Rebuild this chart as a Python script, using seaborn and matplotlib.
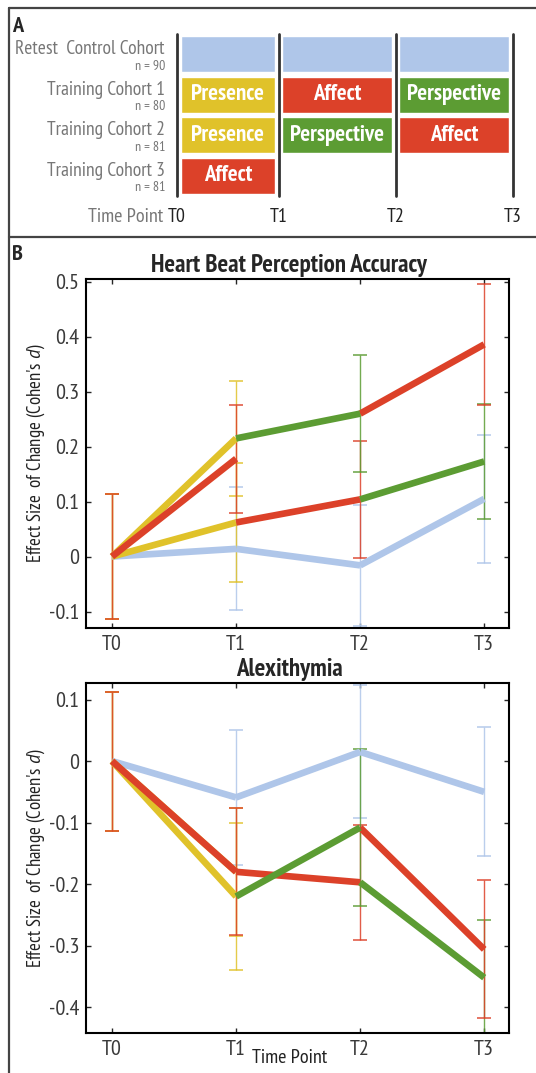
import numpy as np
import pandas as pd
import matplotlib
matplotlib.use("Agg")
import matplotlib.pyplot as plt
import matplotlib.transforms as mtransforms
from matplotlib.lines import Line2D
from matplotlib import font_manager
import seaborn as sns

W, H = 536, 1073

# ── data ──────────────────────────────────────────────────────
time_labels = ["T0", "T1", "T2", "T3"]
design_pos = [0, 1, 2.15, 3.3]          # time points in the study design panel

cohort_names = ["Retest  Control Cohort", "Training Cohort 1",
                "Training Cohort 2", "Training Cohort 3"]
cohort_n = [90, 80, 81, 81]
control_modules = ["Retest", "Retest", "Retest"]
cohort1_modules = ["Presence", "Affect", "Perspective"]
cohort2_modules = ["Presence", "Perspective", "Affect"]
cohort3_modules = ["Affect"]

# heart beat perception accuracy: effect size (Cohen's d) and error half-widths
hb_control = [0, 0.014, -0.016, 0.105]
hb_control_err = [0.113, 0.112, 0.110, 0.116]
hb_c1 = [0, 0.062, 0.104, 0.173]
hb_c1_err = [0.113, 0.108, 0.107, 0.104]
hb_c2 = [0, 0.215, 0.260, 0.386]
hb_c2_err = [0.113, 0.105, 0.107, 0.110]
hb_c3 = [0, 0.178]
hb_c3_err = [0.113, 0.098]

# alexithymia
al_control = [0, -0.059, 0.015, -0.050]
al_control_err = [0.113, 0.110, 0.108, 0.105]
al_c1 = [0, -0.180, -0.197, -0.352]
al_c1_err = [0.113, 0.104, 0.093, 0.093]
al_c2 = [0, -0.220, -0.108, -0.306]
al_c2_err = [0.113, 0.120, 0.128, 0.112]
al_c3 = [0, -0.180]
al_c3_err = [0.113, 0.103]

module_colors = {"Retest": "#afc6e9", "Presence": "#e0c22a",
                 "Affect": "#dc4129", "Perspective": "#5c9c33"}
module_order = ["Retest", "Presence", "Affect", "Perspective"]

# ── style ─────────────────────────────────────────────────────
sns.set_style("ticks")
names = {f.name for f in font_manager.fontManager.ttflist}
FONT = next((f for f in ["PT Sans Narrow", "Asap Condensed", "Cabin Condensed",
                         "Archivo Narrow"] if f in names), "DejaVu Sans")
IT_FONT = next((f for f in ["PT Sans", "Asap Condensed", "Cabin Condensed"]
                if f in names), "DejaVu Sans")
plt.rcParams["font.family"] = [FONT, "DejaVu Sans"]
if FONT == "DejaVu Sans":
    plt.rcParams["font.stretch"] = "condensed"
plt.rcParams["mathtext.fontset"] = "custom"
plt.rcParams["mathtext.rm"] = FONT
plt.rcParams["mathtext.it"] = IT_FONT + ":italic"


def rect(x0, y0, x1, y1):
    return [x0 / W, 1 - y1 / H, (x1 - x0) / W, (y1 - y0) / H]


fig = plt.figure(figsize=(W / 100, H / 100), dpi=100)

# panel frames
frame = dict(color="#444444", lw=1.6, transform=fig.transFigure)
fig.add_artist(Line2D([9 / W, 1], [1 - 8 / H] * 2, **frame))
fig.add_artist(Line2D([9 / W, 1], [1 - 237 / H] * 2, **frame))
fig.add_artist(Line2D([9 / W] * 2, [0, 1 - 8 / H], **frame))
fig.text(12 / W, 1 - 26 / H, "A", fontsize=16, fontweight="bold", va="center")
fig.text(12 / W, 1 - 255 / H, "B", fontsize=16, fontweight="bold", va="center")

# ── A: study design ───────────────────────────────────────────
ax_a = fig.add_axes(rect(177, 34, 513, 196))
ax_a.set_xlim(design_pos[0], design_pos[-1])
ax_a.set_ylim(3.5, -0.5)
ax_a.axis("off")
gap = 0.035
schedule = [control_modules, cohort1_modules, cohort2_modules, cohort3_modules]
for r, mods in enumerate(schedule):
    for i, m in enumerate(mods):
        left = design_pos[i] + gap
        width = design_pos[i + 1] - design_pos[i] - 2 * gap
        ax_a.barh(r, width, left=left, height=0.9, color=module_colors[m])
        if m != "Retest":
            ax_a.text(left + width / 2, r, m, color="white", fontsize=16.5,
                      fontweight="bold", ha="center", va="center")
for x in design_pos:
    ax_a.axvline(x, color="#333333", lw=2, clip_on=False)

row_trans = mtransforms.blended_transform_factory(ax_a.transAxes, ax_a.transData)
for r, (name, n) in enumerate(zip(cohort_names, cohort_n)):
    ax_a.text(-0.036, r - 0.12, name, transform=row_trans, ha="right",
              va="center", fontsize=14, color="#777777")
    ax_a.text(-0.036, r + 0.3, f"n = {n}", transform=row_trans, ha="right",
              va="center", fontsize=10, color="#777777")

tp_trans = mtransforms.blended_transform_factory(ax_a.transData, ax_a.transAxes)
for x, lab in zip(design_pos, time_labels):
    ax_a.text(x, -0.13, lab, transform=tp_trans, ha="center", va="center",
              fontsize=14.5, color="#222222")
ax_a.text(-0.04, -0.13, "Time Point", transform=ax_a.transAxes, ha="right",
          va="center", fontsize=14.5, color="#777777")


# ── B: effect sizes ───────────────────────────────────────────
def effect_panel(ax, series, title, ylim, yticks):
    for vals, errs, mods in series:
        for j in range(len(vals)):
            c = module_colors[mods[max(j - 1, 0)]]
            ax.errorbar(j, vals[j], yerr=errs[j], color=c, lw=1, capsize=5,
                        capthick=1.2, alpha=0.85, zorder=2)
    rows = []
    for k, (vals, errs, mods) in enumerate(series):
        for i, m in enumerate(mods):
            for j in (i, i + 1):
                rows.append(dict(seg=f"{k}-{i}", t=j, d=vals[j], module=m))
    seg_df = pd.DataFrame(rows)
    sns.lineplot(data=seg_df, x="t", y="d", hue="module", hue_order=module_order,
                 palette=module_colors, units="seg", estimator=None, lw=4.8,
                 legend=False, ax=ax, zorder=3, solid_capstyle="butt")
    ax.set_xlim(-0.21, 3.2)
    ax.set_ylim(*ylim)
    ax.set_xticks(range(len(time_labels)), time_labels)
    ax.set_yticks(yticks, [f"{v + 0.0:g}" for v in np.round(yticks, 2)])
    ax.tick_params(direction="in", top=True, right=True, length=3.5, width=1,
                   labelsize=16, labelcolor="#3a3a3a", pad=5)
    for s in ax.spines.values():
        s.set_linewidth(1.5)
        s.set_color("black")
    ax.set_title(title, fontsize=18, fontweight="bold", x=0.48, pad=5)
    ax.set_xlabel("")
    ax.set_ylabel("Effect Size  of Change (Cohen's $d$)", fontsize=13.5,
                  color="#222222")
    ax.yaxis.set_label_coords(-0.118, 0.5)
    ax.yaxis.label.set_va("center")


ax_hb = fig.add_axes(rect(86, 279, 509, 628))
effect_panel(ax_hb,
             [(hb_control, hb_control_err, control_modules),
              (hb_c1, hb_c1_err, cohort1_modules),
              (hb_c2, hb_c2_err, cohort2_modules),
              (hb_c3, hb_c3_err, cohort3_modules)],
             "Heart Beat Perception Accuracy", (-0.13, 0.505),
             np.arange(-0.1, 0.51, 0.1))

ax_al = fig.add_axes(rect(86, 683, 509, 1033))
effect_panel(ax_al,
             [(al_control, al_control_err, control_modules),
              (al_c1, al_c1_err, cohort1_modules),
              (al_c2, al_c2_err, cohort2_modules),
              (al_c3, al_c3_err, cohort3_modules)],
             "Alexithymia", (-0.442, 0.127),
             np.arange(-0.4, 0.11, 0.1))
ax_al.set_xlabel("Time Point", fontsize=14.5, color="#222222")
ax_al.xaxis.set_label_coords(0.482, -0.071)
ax_al.xaxis.label.set_va("center")

fig.savefig("out.png", dpi=100)
